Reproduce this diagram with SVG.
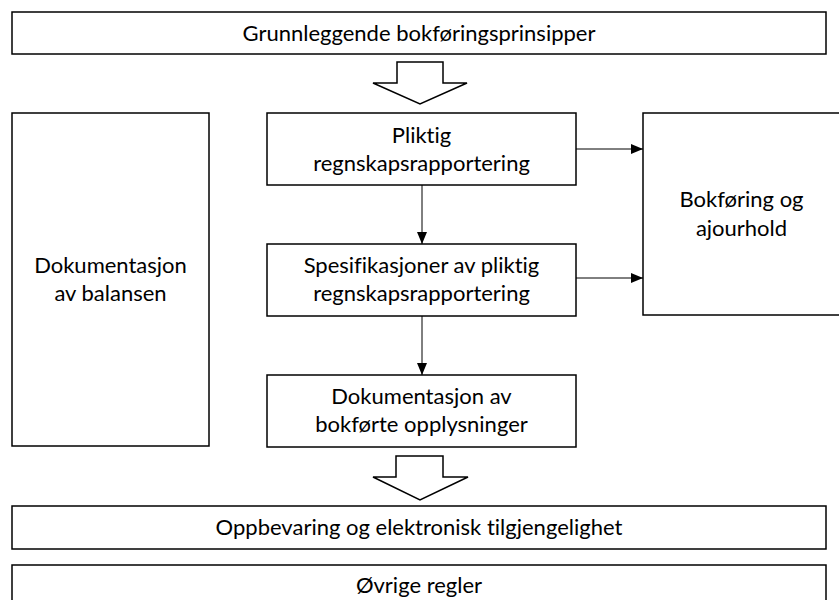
<svg xmlns="http://www.w3.org/2000/svg" width="839" height="600" viewBox="0 0 839 600">
<defs>
<style>
.box{fill:#fff;stroke:#000;stroke-width:1.5}
.blk{fill:#fff;stroke:#000;stroke-width:1.5;stroke-linejoin:miter}
.t{font-family:Lato,"Liberation Sans",sans-serif;font-size:22px;fill:#000;text-anchor:middle;font-variant-ligatures:none;font-feature-settings:"liga" 0}
.c{stroke:#000;stroke-width:1;fill:none}
</style>
<marker id="ah" viewBox="0 0 12 10" refX="12" refY="5" markerWidth="12" markerHeight="10" markerUnits="userSpaceOnUse" orient="auto">
<path d="M0,0 L12,5 L0,10 Z" fill="#000"/>
</marker>
</defs>
<g id="n-grunn">
<rect class="box" x="12" y="12" width="814" height="42"/>
<text class="t" x="419" y="41">Grunnleggende bokføringsprinsipper</text>
</g>
<g id="blockarrow-top">
<path class="blk" d="M397,62 H443 V83 H467 L420,104 L373,83 H397 Z"/>
</g>
<g id="n-balansen">
<rect class="box" x="12" y="113" width="197" height="333"/>
<text class="t" x="110.5" y="273">Dokumentasjon</text>
<text class="t" x="110.5" y="301">av balansen</text>
</g>
<g id="n-pliktig">
<rect class="box" x="267" y="113" width="309" height="72"/>
<text class="t" x="421.5" y="143">Pliktig</text>
<text class="t" x="421.5" y="171">regnskapsrapportering</text>
</g>
<g id="n-spes">
<rect class="box" x="267" y="244" width="309" height="72"/>
<text class="t" x="421.5" y="273">Spesifikasjoner av pliktig</text>
<text class="t" x="421.5" y="301">regnskapsrapportering</text>
</g>
<g id="n-dok">
<rect class="box" x="267" y="375" width="309" height="72"/>
<text class="t" x="421.5" y="404">Dokumentasjon av</text>
<text class="t" x="421.5" y="432">bokførte opplysninger</text>
</g>
<g id="n-bokforing">
<rect class="box" x="643" y="113" width="200" height="202"/>
<text class="t" x="741.5" y="207">Bokføring og</text>
<text class="t" x="741.5" y="236">ajourhold</text>
</g>
<g id="blockarrow-bottom">
<path class="blk" d="M396,456 H443 V477 H468 L420,500 L373,477 H396 Z"/>
</g>
<g id="n-oppbevaring">
<rect class="box" x="12" y="506" width="814" height="43"/>
<text class="t" x="419" y="535">Oppbevaring og elektronisk tilgjengelighet</text>
</g>
<g id="n-ovrige">
<rect class="box" x="12" y="565" width="814" height="45"/>
<text class="t" x="419" y="593">Øvrige regler</text>
</g>
<g id="connectors">
<line class="c" x1="422" y1="185" x2="422" y2="244" marker-end="url(#ah)"/>
<line class="c" x1="422" y1="316" x2="422" y2="375" marker-end="url(#ah)"/>
<line class="c" x1="576" y1="149" x2="643" y2="149" marker-end="url(#ah)"/>
<line class="c" x1="576" y1="278" x2="643" y2="278" marker-end="url(#ah)"/>
</g>
</svg>
